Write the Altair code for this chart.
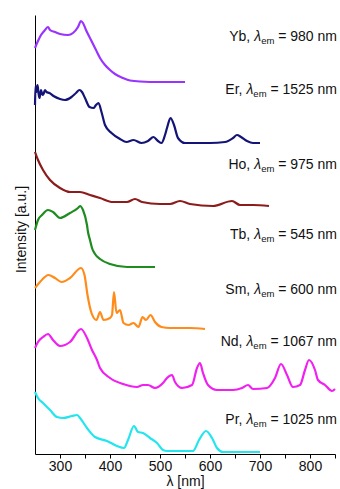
import altair as alt
import pandas as pd

FONT = "Liberation Sans"
FS = 14
SUB_FS = 9.5

SERIES = ["Yb", "Er", "Ho", "Tb", "Sm", "Nd", "Pr"]
EM_NM = ["980", "1525", "975", "545", "600", "1067", "1025"]
COLORS = ["#9933ff", "#141478", "#8c1c1c", "#1e8c1e", "#ff8c1a", "#f020f0", "#22e5ee"]
LABEL_Y = [417, 364, 289, 219, 164, 112, 34]

YB_NM = [250, 255, 262, 270, 276, 280, 290, 300, 316, 326, 336, 342, 346, 352, 362, 372, 380, 390, 400, 410, 426, 440, 460, 500, 550]
YB_I = [406, 412, 419, 424, 427, 424, 422, 420, 419, 421, 427, 433, 431, 424, 414, 404, 396, 389, 384, 380, 376, 373.5, 372.5, 372, 372]

ER_NM = [250, 251, 253, 255, 257, 259, 262, 265, 267, 270, 273, 279, 287, 300, 310, 323, 332, 339, 344, 350, 359, 367, 372, 377, 383, 390, 403, 420, 433, 447, 463, 476, 487, 496, 503, 510, 514, 521, 528, 536, 550, 600, 630, 646, 654, 662, 674, 686, 700]
ER_I = [349, 368, 362, 369, 361, 356, 364, 359, 360, 364, 362, 361, 358, 355, 354, 357, 361, 364, 362, 356, 347, 346, 349, 351, 342, 329, 321, 315, 312, 314, 311, 313, 317, 313, 311, 319, 326, 336, 329, 316, 311, 311, 312, 316, 319, 317, 313, 311, 311]

HO_NM = [250, 256, 266, 280, 300, 320, 340, 360, 380, 406, 434, 450, 464, 500, 520, 540, 560, 606, 644, 660, 686, 718]
HO_I = [302, 294, 284, 274, 266, 262, 262, 259, 256, 252, 252, 255, 252, 250, 250, 253, 250, 248, 253, 249, 249, 248]

TB_NM = [250, 256, 264, 276, 286, 300, 320, 336, 340, 346, 354, 356, 360, 364, 370, 380, 400, 434, 490]
TB_I = [224, 234, 239, 244, 242, 236, 241, 246, 248, 244, 229, 222, 214, 206, 200, 195, 190, 187, 187]

SM_NM = [250, 260, 277, 290, 303, 320, 342, 349, 355, 363, 373, 380, 387, 400, 404, 408, 413, 420, 427, 437, 447, 457, 465, 472, 481, 490, 503, 520, 536, 560, 590]
SM_I = [166, 172, 179, 176, 172, 176, 186, 179, 159, 141, 134, 142, 134, 136, 139, 162, 141, 144, 131, 129, 131, 127, 137, 134, 139, 132, 127, 126, 126, 126, 125]

ND_NM = [250, 256, 266, 276, 286, 300, 320, 342, 354, 364, 374, 380, 400, 426, 454, 466, 476, 490, 506, 514, 524, 530, 544, 564, 574, 580, 586, 596, 614, 646, 664, 676, 686, 714, 730, 742, 754, 766, 780, 790, 798, 810, 816, 830, 844, 850]
ND_I = [106, 112, 117, 120, 114, 108, 112, 125, 116, 104, 94, 86, 76, 70, 67, 69, 69, 66, 71, 76, 79, 72, 66, 69, 86, 91, 81, 69, 64, 64, 66, 69, 65, 66, 76, 90, 79, 67, 69, 84, 94, 84, 74, 69, 63, 65]

PR_NM = [250, 256, 266, 280, 294, 306, 324, 334, 340, 354, 370, 394, 414, 428, 436, 448, 456, 466, 480, 494, 506, 514, 566, 578, 592, 604, 614, 626, 700]
PR_I = [62, 56, 51, 44, 37, 36, 38, 39, 36, 26, 17, 13, 8, 6, 14, 28, 22, 21, 16, 11, 4, 3, 3, 14, 23, 16, 6, 2, 2]

ALL_NM = [YB_NM, ER_NM, HO_NM, TB_NM, SM_NM, ND_NM, PR_NM]
ALL_I = [YB_I, ER_I, HO_I, TB_I, SM_I, ND_I, PR_I]

rows = []
for name, nms, vals in zip(SERIES, ALL_NM, ALL_I):
    for n, v in zip(nms, vals):
        rows.append({"element": name, "wavelength": n, "intensity": v})
df = pd.DataFrame(rows)

# Arial / Liberation Sans advance widths (em units) for label layout
AW = {"Y": .667, "b": .556, ",": .278, " ": .278, "E": .667, "r": .333, "H": .722,
      "o": .556, "T": .611, "S": .667, "m": .833, "N": .722, "d": .556, "P": .667,
      "=": .584, "n": .556, "e": .556, "λ": .5}


def tw(s, size):
    return sum(AW.get(c, .556) for c in s) * size


NM_PER_PX = 2.0
X_END = 854
lab_rows = []
for name, em, ly in zip(SERIES, EM_NM, LABEL_Y):
    p1 = name + ","
    p4 = "= " + em + " nm"
    x4 = X_END
    x3 = x4 - (tw(p4, FS) + tw(" ", FS)) * NM_PER_PX
    x2 = x3 - tw("em", SUB_FS) * NM_PER_PX
    x1 = x2 - (tw("λ", FS) + tw(" ", FS)) * NM_PER_PX
    lab_rows.append({"p1": p1, "p2": "λ", "p3": "em", "p4": p4,
                     "x1": x1, "x2": x2, "x3": x3, "x4": x4, "ly": ly})
lab = pd.DataFrame(lab_rows)

xscale = alt.Scale(domain=[250, 850], nice=False, zero=False)
yscale = alt.Scale(domain=[0, 439], nice=False, zero=False)
xaxis = alt.Axis(values=list(range(300, 851, 50)),
                 labelExpr="datum.value % 100 === 0 ? datum.label : ''",
                 title="λ [nm]", grid=False, tickSize=4, tickColor="black",
                 domainColor="black", labelPadding=1, titlePadding=1,
                 labelFlush=False)
yaxis = alt.Axis(title="Intensity [a.u.]", labels=False, ticks=False, grid=False,
                 domainColor="black", titlePadding=7, titleY=214)

lines = alt.Chart(df).mark_line(strokeWidth=2.2, interpolate="monotone").encode(
    x=alt.X("wavelength:Q", scale=xscale, axis=xaxis),
    y=alt.Y("intensity:Q", scale=yscale, axis=yaxis),
    color=alt.Color("element:N", scale=alt.Scale(domain=SERIES, range=COLORS), legend=None),
    order=alt.Order("wavelength:Q"),
)


def part(field_x, field_t, size, style="normal", dy=0):
    return alt.Chart(lab).mark_text(align="right", baseline="middle", fontSize=size,
                                    font=FONT, fontStyle=style, dy=dy, color="#111").encode(
        x=alt.X(field_x + ":Q", scale=xscale, axis=xaxis),
        y=alt.Y("ly:Q", scale=yscale, axis=yaxis),
        text=alt.Text(field_t + ":N"),
    )


labels = part("x1", "p1", FS) + part("x2", "p2", FS, "italic") + \
    part("x3", "p3", SUB_FS, dy=4) + part("x4", "p4", FS)

chart = alt.layer(lines, labels).properties(
    width=300, height=439,
    padding={"left": 35, "top": 15, "right": 5, "bottom": 35},
    autosize=alt.AutoSizeParams(type="none"),
).configure_view(stroke=None).configure_axis(
    labelFont=FONT, titleFont=FONT, labelFontSize=FS, titleFontSize=FS,
    titleFontWeight="normal", labelColor="#111", titleColor="#111",
)

chart.save("out.html", embed_options={"renderer": "svg", "actions": False})
